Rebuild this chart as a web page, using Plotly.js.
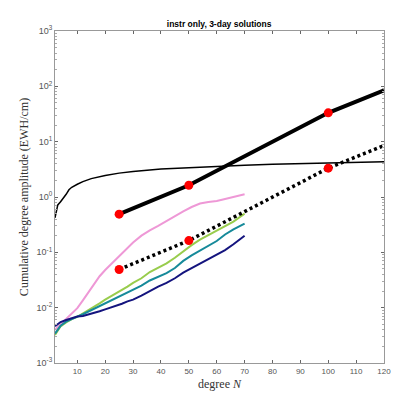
<!DOCTYPE html>
<html>
<head>
<meta charset="utf-8">
<script src="https://cdn.plot.ly/plotly-3.0.1.min.js"></script>
<style>html,body{margin:0;padding:0;background:#fff;}#chart{width:397px;height:408px;}</style>
</head>
<body>
<div id="chart"></div>
<script>
// Reference (thin black) curve
const refDeg = [2, 3, 4, 5, 6, 7, 8, 10, 12, 15, 20, 25, 30, 40, 50, 60, 70, 80, 90, 100, 110, 120];
const refVal = [0.42, 0.72, 0.82, 0.95, 1.12, 1.35, 1.5, 1.7, 1.9, 2.15, 2.45, 2.7, 2.9, 3.2, 3.4, 3.6, 3.75, 3.9, 4.0, 4.15, 4.25, 4.35];

// Thick solid and dotted lines with red markers
const lineDeg = [25, 50, 100, 120];
const solidVal = [0.49, 1.63, 33.2, 85];
const dottedVal = [0.049, 0.163, 3.32, 8.5];
const markDeg = [25, 50, 100];
const markSolid = [0.49, 1.63, 33.2];
const markDotted = [0.049, 0.163, 3.32];

// Coloured solution curves (degree 2..70)
const solDeg = [2, 4, 6, 8, 10, 12, 14, 16, 18, 20, 22, 24, 26, 28, 30, 33, 36, 39, 42, 45, 48, 51, 54, 57, 60, 63, 66, 70];
const pinkVal = [0.004, 0.005, 0.0062, 0.0078, 0.0098, 0.0135, 0.019, 0.027, 0.037, 0.048, 0.06, 0.075, 0.095, 0.12, 0.15, 0.2, 0.25, 0.3, 0.37, 0.45, 0.55, 0.66, 0.76, 0.81, 0.85, 0.92, 1.0, 1.12];
const greenVal = [0.0032, 0.0046, 0.0054, 0.0062, 0.0068, 0.0078, 0.009, 0.0105, 0.012, 0.014, 0.016, 0.018, 0.021, 0.024, 0.028, 0.034, 0.044, 0.052, 0.063, 0.08, 0.105, 0.135, 0.17, 0.205, 0.24, 0.29, 0.36, 0.5];
const tealVal = [0.0034, 0.0047, 0.0056, 0.0063, 0.0069, 0.0076, 0.0085, 0.0095, 0.0105, 0.012, 0.0135, 0.015, 0.017, 0.019, 0.021, 0.025, 0.031, 0.036, 0.042, 0.052, 0.07, 0.088, 0.108, 0.13, 0.16, 0.21, 0.26, 0.33];
const navyVal = [0.0046, 0.0055, 0.006, 0.0065, 0.0069, 0.0071, 0.0075, 0.008, 0.0086, 0.0093, 0.01, 0.0108, 0.0118, 0.013, 0.014, 0.0165, 0.02, 0.024, 0.028, 0.034, 0.043, 0.052, 0.063, 0.075, 0.09, 0.11, 0.14, 0.2];

const xTicks = [10, 20, 30, 40, 50, 60, 70, 80, 90, 100, 110, 120];
const yTickVals = [0.001, 0.01, 0.1, 1, 10, 100, 1000];
const yTickText = ['10<sup>-3</sup>', '10<sup>-2</sup>', '10<sup>-1</sup>', '10<sup>0</sup>', '10<sup>1</sup>', '10<sup>2</sup>', '10<sup>3</sup>'];

const traces = [
  {x: refDeg, y: refVal, mode: 'lines', line: {color: '#000', width: 1.5}},
  {x: solDeg, y: pinkVal, mode: 'lines', line: {color: '#EE98D6', width: 2}},
  {x: solDeg, y: greenVal, mode: 'lines', line: {color: '#98CC4C', width: 2}},
  {x: solDeg, y: tealVal, mode: 'lines', line: {color: '#168A9A', width: 2}},
  {x: solDeg, y: navyVal, mode: 'lines', line: {color: '#14147E', width: 2}},
  {x: lineDeg, y: solidVal, mode: 'lines', line: {color: '#000', width: 4}},
  {x: lineDeg, y: dottedVal, mode: 'lines', line: {color: '#000', width: 3.5, dash: '3px,3px'}},
  {x: markDeg, y: markSolid, mode: 'markers', marker: {color: '#FF0000', size: 9}},
  {x: markDeg, y: markDotted, mode: 'markers', marker: {color: '#FF0000', size: 9}}
];

const layout = {
  width: 397, height: 408,
  margin: {l: 55, r: 13, t: 31, b: 45},
  paper_bgcolor: '#fff', plot_bgcolor: '#fff',
  showlegend: false,
  title: {text: '<b>instr only, 3-day solutions</b>', font: {family: 'Liberation Sans, Arial', size: 8.5, color: '#000'}, x: 0.552, xanchor: 'center', y: 0.94, yanchor: 'middle'},
  xaxis: {
    range: [2, 120], tickvals: xTicks, ticktext: xTicks.map(String),
    ticks: 'inside', ticklen: 3, tickcolor: '#666', tickwidth: 1,
    showline: true, linecolor: '#999', linewidth: 1, mirror: 'ticks',
    showgrid: false, zeroline: false,
    tickfont: {family: 'Liberation Sans, Arial', size: 8, color: '#555'},
    title: {text: 'degree <i>N</i>', font: {family: 'Liberation Serif, Times New Roman', size: 12, color: '#333'}, standoff: 5}
  },
  yaxis: {
    type: 'log', range: [-3, 3], tickvals: yTickVals, ticktext: yTickText,
    ticks: 'inside', ticklen: 3, tickcolor: '#666', tickwidth: 1,
    minor: {ticks: 'inside', ticklen: 2, tickcolor: '#aaa', dtick: 'D1'},
    showline: true, linecolor: '#999', linewidth: 1, mirror: 'ticks',
    showgrid: false, zeroline: false,
    tickfont: {family: 'Liberation Sans, Arial', size: 9, color: '#555'},
    title: {text: 'Cumulative degree amplitude (EWH/cm)', font: {family: 'Liberation Serif, Times New Roman', size: 12, color: '#333'}, standoff: 5}
  }
};

Plotly.newPlot('chart', traces, layout, {staticPlot: true, displayModeBar: false});
</script>
</body>
</html>
